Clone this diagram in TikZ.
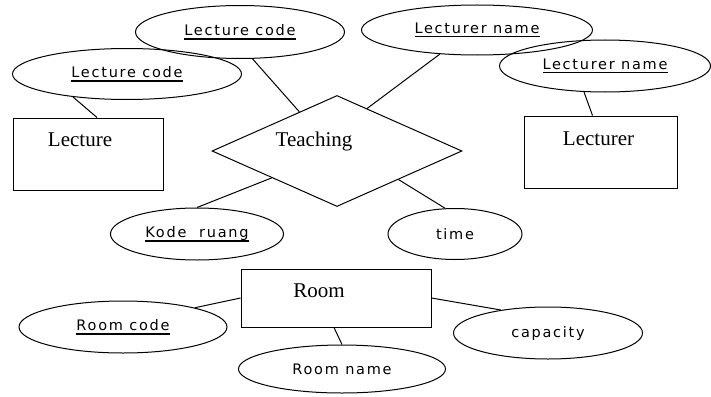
\documentclass[tikz,border=0pt]{standalone}
\usepackage{fontspec}
\setmainfont{Liberation Serif}
\newfontfamily\attrfont[LetterSpace=12]{DejaVu Sans}
\usetikzlibrary{shapes.geometric,calc}
% key attribute: text with a firm rule under it
\newcommand\keyattr[1]{\setbox0\hbox{#1}\rlap{\rule[-4pt]{\wd0}{1.2pt}}\box0}
\begin{document}
\begin{tikzpicture}[x=1pt,y=-1pt,
  attr/.style={draw, ellipse, inner sep=0pt, line width=1pt,
    font=\attrfont\fontsize{14.5}{16}\selectfont},
  entity/.style={draw, rectangle, inner sep=0pt, line width=1pt},
  rel/.style={draw, diamond, inner sep=0pt, line width=1pt},
  title/.style={font=\fontsize{21}{24}\selectfont, inner sep=0pt, anchor=north},
  link/.style={line width=1pt}]
\useasboundingbox (0,0) rectangle (711,396);

% entities and the relationship
\node[entity, minimum width=150pt, minimum height=72pt] (lecture) at (88,154) {};
\node[title] (lecture-t) at ([xshift=-8pt, yshift=-15pt]lecture.north) {Lecture};
\node[entity, minimum width=153pt, minimum height=72pt] (lecturer) at (600.5,152) {};
\node[title] (lecturer-t) at ([xshift=-2pt, yshift=-16pt]lecturer.north) {Lecturer};
\node[entity, minimum width=190pt, minimum height=58pt] (room) at (336,298) {};
\node[title] (room-t) at ([xshift=-17pt, yshift=-15pt]room.north) {Room};
\node[rel, minimum width=250pt, minimum height=111pt] (teach) at (337,151) {};
\node[title] (teach-t) at ([xshift=-23pt, yshift=-37pt]teach.north) {Teaching};

% attributes
\node[attr, minimum width=209pt, minimum height=53pt] (lc1) at (240,32) {\keyattr{Lecture code}};
\node[attr, minimum width=229pt, minimum height=51pt] (lc2) at (127,74) {\keyattr{Lecture code}};
\node[attr, minimum width=231pt, minimum height=50pt] (ln1) at (477,30) {\keyattr{Lecturer name}};
\node[attr, minimum width=211pt, minimum height=52pt] (ln2) at (605,66) {\keyattr{Lecturer name}};
\node[attr, minimum width=173pt, minimum height=52pt] (kode) at (197,234) {\keyattr{Kode\ \ ruang}};
\node[attr, minimum width=134pt, minimum height=51pt] (time) at (455,234) {time};
\node[attr, minimum width=208pt, minimum height=52pt] (rc) at (123,327) {\keyattr{Room code}};
\node[attr, minimum width=207pt, minimum height=48pt] (rn) at (342,369) {Room name};
\node[attr, minimum width=189pt, minimum height=52pt] (cap) at (548,333) {capacity};

% connectors
\draw[link] (lc2.203) -- ([xshift=9pt]lecture.north);
\draw[link] (lc1.-65) -- ($(teach.west)!0.7!(teach.north)$);
\draw[link] (ln1.213) -- ($(teach.north)!0.24!(teach.east)$);
\draw[link] (ln2.231) -- ([xshift=-8pt]lecturer.north);
\draw[link] ($(teach.west)!0.48!(teach.south)$) -- (kode.north);
\draw[link] ($(teach.east)!0.51!(teach.south)$) -- (time.111);
\draw[link] (room.west) -- (rc.15);
\draw[link] ([xshift=-2pt]room.south) -- (rn.north);
\draw[link] (room.east) -- (cap.154);
\end{tikzpicture}
\end{document}
